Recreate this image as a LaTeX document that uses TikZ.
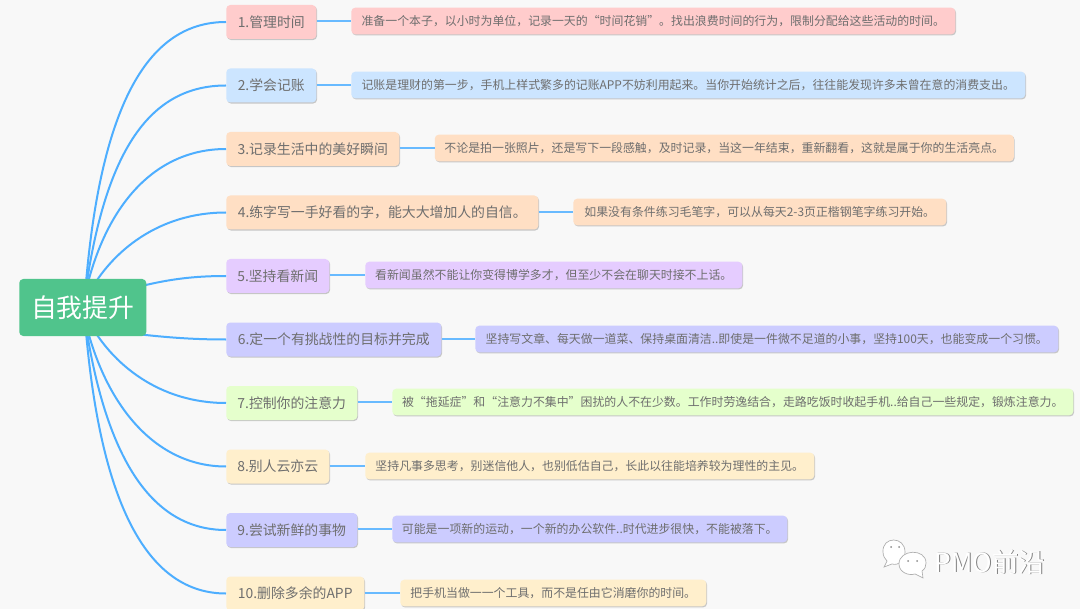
\documentclass[tikz,border=0pt]{standalone}
\usepackage{fontspec}
\setmainfont{Noto Sans CJK SC}
\usetikzlibrary{shadows}
\definecolor{bgc}{HTML}{F8F8F8}
\definecolor{linkc}{HTML}{4DAEFF}
\definecolor{rootc}{HTML}{50C48C}
\definecolor{txtc}{HTML}{6E6E6E}
\definecolor{cpink}{HTML}{FFCCCC}
\definecolor{cblue}{HTML}{CCE5FF}
\definecolor{corange}{HTML}{FFDFC4}
\definecolor{cpurple}{HTML}{E5CCFF}
\definecolor{cindigo}{HTML}{CCCCFF}
\definecolor{cgreen}{HTML}{E5FFCC}
\definecolor{cyellow}{HTML}{FFEFCC}
\tikzset{
  x=0.75pt,y=-0.75pt,
  boxbase/.style={anchor=west,rounded corners=3pt,inner sep=0pt,text=txtc,
    drop shadow={shadow xshift=0.6pt,shadow yshift=-0.8pt,fill=black,opacity=0.2}},
  mainbox/.style={boxbase,minimum height=25.5pt,font=\fontsize{10.4pt}{12pt}\selectfont},
  subbox/.style={boxbase,minimum height=20pt,font=\fontsize{8.93pt}{11pt}\selectfont},
  rootbox/.style={anchor=west,rounded corners=3pt,inner sep=0pt,fill=rootc,text=white,
    minimum width=95.25pt,minimum height=42.75pt,font=\fontsize{19.4pt}{22pt}\selectfont},
  bigcurve/.style={draw=linkc,line width=1.5pt},
  sublink/.style={draw=linkc!85!white,line width=0.9pt},
  wmtext/.style={inner sep=0pt,font=\fontsize{19.8pt}{22pt}\selectfont},
  wmline/.style={draw=black!32,line width=0.5pt,fill=white}
}
\begin{document}
\begin{tikzpicture}
\fill[bgc] (0,0) rectangle (1080,609);
\useasboundingbox (0,0) rectangle (1080,609);
\clip (0,0) rectangle (1080,609);
% hubs behind the root
\coordinate (hubA) at (85,295);
\coordinate (hubB) at (88,295);
\coordinate (hubC) at (85,320);
\coordinate (hubD) at (88,320);
\coordinate (hubE) at (120,292);
\coordinate (hubF) at (120,332);
% main nodes
\node[mainbox,fill=cpink,minimum width=67.5pt] (m1) at (226,22) {1.管理时间};
\node[mainbox,fill=cblue,minimum width=67.5pt] (m2) at (226,85.5) {2.学会记账};
\node[mainbox,fill=corange,minimum width=129.75pt] (m3) at (226,149) {3.记录生活中的美好瞬间};
\node[mainbox,fill=corange,minimum width=234pt] (m4) at (226,212.5) {4.练字写一手好看的字，能大大增加人的自信。};
\node[mainbox,fill=cpurple,minimum width=77.25pt] (m5) at (226,276) {5.坚持看新闻};
\node[mainbox,fill=cindigo,minimum width=161.25pt] (m6) at (226,339.5) {6.定一个有挑战性的目标并完成};
\node[mainbox,fill=cgreen,minimum width=98.25pt] (m7) at (226,403) {7.控制你的注意力};
\node[mainbox,fill=cyellow,minimum width=77.25pt] (m8) at (226,466.5) {8.别人云亦云};
\node[mainbox,fill=cindigo,minimum width=98.25pt] (m9) at (226,530) {9.尝试新鲜的事物};
\node[mainbox,fill=cyellow,minimum width=103.5pt] (m10) at (226,593.5) {10.删除多余的APP};
% sub nodes
\node[subbox,fill=cpink,minimum width=453pt] (s1) at (351,21) {准备一个本子，以小时为单位，记录一天的“时间花销”。找出浪费时间的行为，限制分配给这些活动的时间。};
\node[subbox,fill=cblue,minimum width=505.5pt] (s2) at (351,85) {记账是理财的第一步，手机上样式繁多的记账APP不妨利用起来。当你开始统计之后，往往能发现许多未曾在意的消费支出。};
\node[subbox,fill=corange,minimum width=434.25pt] (s3) at (434.5,148) {不论是拍一张照片，还是写下一段感触，及时记录，当这一年结束，重新翻看，这就是属于你的生活亮点。};
\node[subbox,fill=corange,minimum width=279.75pt] (s4) at (573,212) {如果没有条件练习毛笔字，可以从每天2-3页正楷钢笔字练习开始。};
\node[subbox,fill=cpurple,minimum width=282.75pt] (s5) at (365,275) {看新闻虽然不能让你变得博学多才，但至少不会在聊天时接不上话。};
\node[subbox,fill=cindigo,minimum width=437.25pt] (s6) at (475,339) {坚持写文章、每天做一道菜、保持桌面清洁..即使是一件微不足道的小事，坚持100天，也能变成一个习惯。};
\node[subbox,fill=cgreen,minimum width=510.75pt] (s7) at (392,402) {被“拖延症”和“注意力不集中”困扰的人不在少数。工作时劳逸结合，走路吃饭时收起手机..给自己一些规定，锻炼注意力。};
\node[subbox,fill=cyellow,minimum width=336.75pt] (s8) at (365,466) {坚持凡事多思考，别迷信他人，也别低估自己，长此以往能培养较为理性的主见。};
\node[subbox,fill=cindigo,minimum width=296.25pt] (s9) at (392,529) {可能是一项新的运动，一个新的办公软件..时代进步很快，不能被落下。};
\node[subbox,fill=cyellow,minimum width=229.5pt] (s10) at (400,593) {把手机当做一一个工具，而不是任由它消磨你的时间。};
% main to sub links
\draw[sublink] (s1.west -| m1.east) -- (s1.west);
\draw[sublink] (s2.west -| m2.east) -- (s2.west);
\draw[sublink] (s3.west -| m3.east) -- (s3.west);
\draw[sublink] (s4.west -| m4.east) -- (s4.west);
\draw[sublink] (s5.west -| m5.east) -- (s5.west);
\draw[sublink] (s6.west -| m6.east) -- (s6.west);
\draw[sublink] (s7.west -| m7.east) -- (s7.west);
\draw[sublink] (s8.west -| m8.east) -- (s8.west);
\draw[sublink] (s9.west -| m9.east) -- (s9.west);
\draw[sublink] (s10.west -| m10.east) -- (s10.west);
% curves
\draw[bigcurve] (hubA) .. controls (100,100) and (150,22) .. (m1.west);
\draw[bigcurve] (hubA) .. controls (105,150) and (150,85.5) .. (m2.west);
\draw[bigcurve] (hubA) .. controls (105,205) and (155,149) .. (m3.west);
\draw[bigcurve] (hubB) .. controls (112,250) and (160,212.5) .. (m4.west);
\draw[bigcurve] (hubE) .. controls (160,280) and (190,276) .. (m5.west);
\draw[bigcurve] (hubF) .. controls (160,337) and (190,339.5) .. (m6.west);
\draw[bigcurve] (hubD) .. controls (112,365) and (160,403) .. (m7.west);
\draw[bigcurve] (hubC) .. controls (105,405) and (155,466.5) .. (m8.west);
\draw[bigcurve] (hubC) .. controls (105,455) and (150,530) .. (m9.west);
\draw[bigcurve] (hubC) .. controls (100,510) and (150,593.5) .. (m10.west);
% root
\node[rootbox] (root) at (19,307.5) {自我提升};
% watermark
\draw[wmline] (905,552) .. controls (905,536) and (882,536) .. (883,552)
   .. controls (883,556) and (885,559) .. (887,561) -- (884,567) -- (892,564)
   .. controls (899,566) and (905,560) .. (905,552) -- cycle;
\draw[wmline] (926,563) .. controls (926,548) and (899,549) .. (899,564)
   .. controls (899,572) and (908,576) .. (915,574) -- (923,578) -- (922,571)
   .. controls (925,569) and (926,566) .. (926,563) -- cycle;
\fill[black!45] (891,547) circle (1) (899,547) circle (1) (908,561) circle (1) (917,561) circle (1);
\node[wmtext,text=black!50] (wmshade) at (990.7,562.7) {PMO前沿};
\node[wmtext,text=white] (wm) at (990,562) {PMO前沿};
\end{tikzpicture}
\end{document}
